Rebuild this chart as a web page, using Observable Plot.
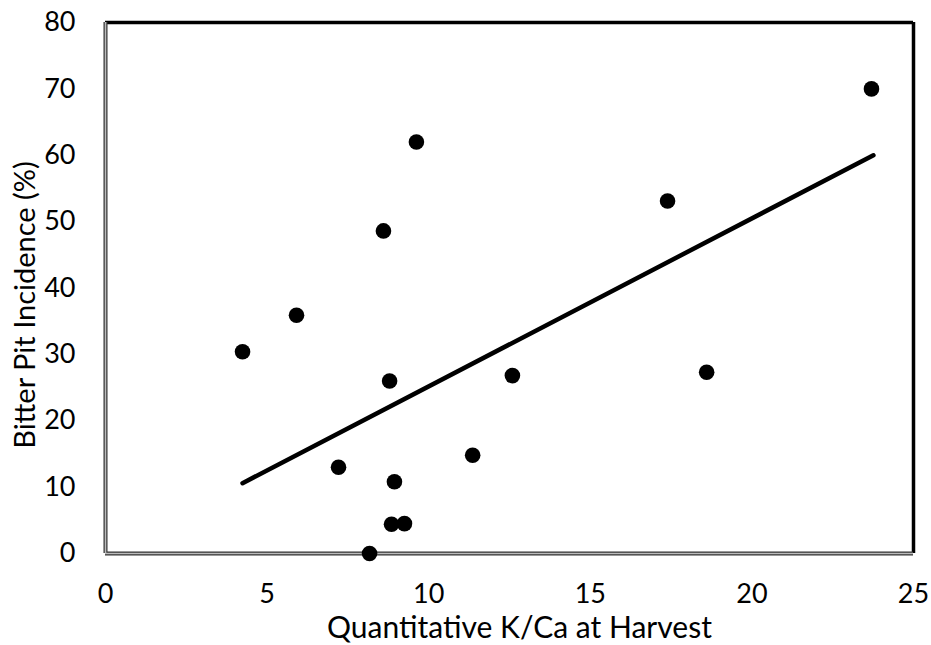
<!DOCTYPE html>
<html>
<head>
<meta charset="utf-8">
<script src="https://cdn.jsdelivr.net/npm/d3@7"></script>
<script src="https://cdn.jsdelivr.net/npm/@observablehq/plot@0.6"></script>
<style>
  html, body { margin: 0; padding: 0; background: #fff; }
</style>
</head>
<body>
<div id="chart"></div>
<script>
const kca = [4.24, 5.91, 7.21, 8.17, 8.60, 8.79, 8.85, 8.94, 9.25, 9.62, 11.36, 12.59, 17.39, 18.6, 23.70];
const incidence = [30.4, 35.9, 13.0, 0.0, 48.6, 26.0, 4.4, 10.8, 4.5, 62.0, 14.8, 26.8, 53.1, 27.3, 70.0];
const trendX = [4.24, 23.76];
const trendY = [10.6, 60.0];
const xTicks = [0, 5, 10, 15, 20, 25];
const yTicks = [0, 10, 20, 30, 40, 50, 60, 70, 80];

const points = kca.map((x, i) => ({x, y: incidence[i]}));
const trend = trendX.map((x, i) => ({x, y: trendY[i]}));

const font = "Lato, 'Open Sans', sans-serif";

const chart = Plot.plot({
  width: 931,
  height: 645,
  marginLeft: 105,
  marginRight: 18,
  marginTop: 22,
  marginBottom: 92,
  style: { fontFamily: font, fontSize: "27px", color: "#000", background: "#fff" },
  x: { domain: [0, 25] },
  y: { domain: [0, 80] },
  marks: [
    Plot.axisY({ ticks: yTicks, tickSize: 0, tickPadding: 30, fontSize: 27, label: null }),
    Plot.axisX({ ticks: xTicks, tickSize: 0, tickPadding: 30, fontSize: 27, label: null }),
    // top and right frame (black)
    Plot.ruleY([80], { stroke: "#000", strokeWidth: 3.5 }),
    Plot.ruleX([25], { stroke: "#000", strokeWidth: 3.5 }),
    // left and bottom axis lines (grey double line)
    Plot.ruleX([0], { stroke: "#333", strokeWidth: 4 }),
    Plot.ruleY([0], { stroke: "#333", strokeWidth: 4 }),
    Plot.ruleX([0], { stroke: "#bbb", strokeWidth: 1.6 }),
    Plot.ruleY([0], { stroke: "#bbb", strokeWidth: 1.6 }),
    Plot.line(trend, { x: "x", y: "y", stroke: "#000", strokeWidth: 4.5, strokeLinecap: "round" }),
    Plot.dot(points, { x: "x", y: "y", r: 7.8, fill: "#000", stroke: "none" }),
    Plot.text(["Quantitative K/Ca at Harvest"], { frameAnchor: "bottom", lineAnchor: "middle", textAnchor: "middle", dx: 10, dy: 75, fontSize: 30, fill: "#000" }),
    Plot.text(["Bitter Pit Incidence (%)"], { frameAnchor: "left", textAnchor: "middle", lineAnchor: "middle", dx: -80, dy: 17, rotate: -90, fontSize: 29, fill: "#000" })
  ]
});
document.getElementById("chart").appendChild(chart);
</script>
</body>
</html>
